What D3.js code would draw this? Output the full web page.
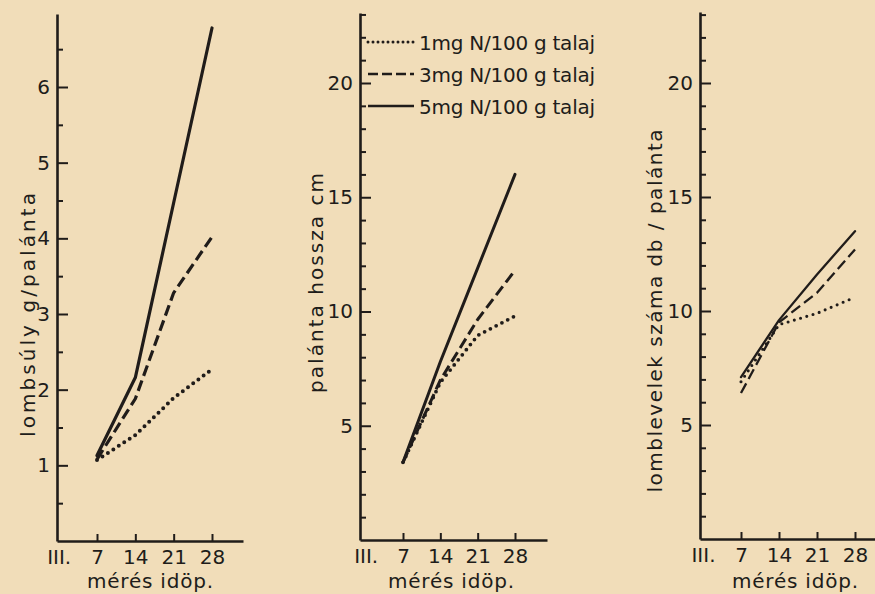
<!DOCTYPE html>
<html>
<head>
<meta charset="utf-8">
<script src="https://cdn.jsdelivr.net/npm/d3@7"></script>
<style>
  body { margin: 0; background: #f1ddb9; }
  svg { display: block; }
  text { font-family: "DejaVu Sans", sans-serif; fill: #201c1a; }
</style>
</head>
<body>
<div id="chart"></div>
<script>
// days of measurement (March)
var days = [7, 14, 21, 28];
var dayTicks = [0, 7, 14, 21, 28];
var dayLabels = ["III.", "7", "14", "21", "28"];

var legendLabels = ["1mg N/100 g talaj", "3mg N/100 g talaj", "5mg N/100 g talaj"];

// lombsúly g/palánta
var lombsuly1 = [1.07, 1.40, 1.89, 2.27];
var lombsuly3 = [1.08, 1.88, 3.28, 4.02];
var lombsuly5 = [1.13, 2.16, 4.47, 6.78];

// palánta hossza cm
var hossz1 = [3.4, 6.9, 8.95, 9.8];
var hossz3 = [3.4, 7.0, 9.65, 11.8];
var hossz5 = [3.4, 7.8, 11.9, 16.0];

// lomblevelek száma db/palánta
var levelek1 = [6.9, 9.4, 9.9, 10.6];
var levelek3 = [6.4, 9.5, 10.8, 12.7];
var levelek5 = [7.1, 9.6, 11.6, 13.5];

var yTicks1 = [1, 2, 3, 4, 5, 6];
var yMinor1 = [0.5, 1.5, 2.5, 3.5, 4.5, 5.5, 6.5];
var yTicks2 = [5, 10, 15, 20];
var yMinor2 = [1, 2, 3, 4, 6, 7, 8, 9, 11, 12, 13, 14, 16, 17, 18, 19, 21, 22, 23];

var ink = "#201c1a";

var svg = d3.select("#chart").append("svg")
    .attr("width", 875)
    .attr("height", 594);

var styles = [
  { dash: "0,6.5", cap: "round", extra: 0.8 },
  { dash: "11,5", cap: "butt", extra: 0 },
  { dash: null, cap: "round", extra: 0 }
];

function drawPanel(p) {
  // x scale fitted on the 7 and 28 ticks, then stretched to the axis ends
  var x = d3.scaleLinear().domain([7, 28]).range([p.x7, p.x28]);
  var xAx = x.copy().domain([x.invert(p.left), x.invert(p.right)]).range([p.left, p.right]);

  var y = d3.scaleLinear().domain([0, p.refVal]).range([p.bottom, p.refY]);
  var yAx = y.copy().domain([0, y.invert(p.top)]).range([p.bottom, p.top]);

  var g = svg.append("g");

  // minor y ticks
  g.append("g")
    .attr("transform", "translate(" + p.left + ",0)")
    .call(d3.axisLeft(yAx).tickValues(p.minor).tickSizeInner(-6).tickSizeOuter(0).tickFormat(""))
    .call(function (a) { a.select(".domain").remove(); });

  // major y ticks
  var ya = g.append("g")
    .attr("transform", "translate(" + p.left + ",0)")
    .call(d3.axisLeft(yAx).tickValues(p.ticks).tickSizeInner(-11).tickSizeOuter(0).tickPadding(7)
      .tickFormat(d3.format("d")));

  // x axis
  var xa = g.append("g")
    .attr("transform", "translate(0," + p.bottom + ")")
    .call(d3.axisBottom(xAx).tickValues(dayTicks).tickSizeInner(-7).tickSizeOuter(0).tickPadding(9)
      .tickFormat(function (d, i) { return dayLabels[i]; }));
  xa.selectAll(".tick").filter(function (d) { return d == 0; }).select("line").remove();

  [ya, xa].forEach(function (a) {
    a.select(".domain").attr("stroke", ink).attr("stroke-width", 2.6);
    a.selectAll(".tick text").style("font-size", "20px").attr("fill", ink);
  });
  g.selectAll(".tick line").attr("stroke", ink).attr("stroke-width", 2);

  // series
  var line = d3.line()
    .x(function (d, i) { return x(days[i]); })
    .y(function (d) { return y(d); });

  p.series.forEach(function (s, i) {
    g.append("path")
      .datum(s)
      .attr("d", line)
      .attr("fill", "none")
      .attr("stroke", ink)
      .attr("stroke-width", p.lw + styles[i].extra)
      .attr("stroke-linecap", styles[i].cap)
      .attr("stroke-linejoin", "round")
      .attr("stroke-dasharray", styles[i].dash);
  });

  // y title
  g.append("text")
    .attr("transform", "translate(" + p.titleX + "," + p.titleY + ") rotate(-90)")
    .attr("text-anchor", "middle")
    .attr("textLength", p.titleLen)
    .attr("lengthAdjust", "spacing")
    .style("font-size", "20px")
    .text(p.title);

  // x title
  g.append("text")
    .attr("x", p.xTitleX)
    .attr("y", 588)
    .attr("text-anchor", "middle")
    .attr("textLength", 126)
    .attr("lengthAdjust", "spacing")
    .style("font-size", "20px")
    .text("mérés idöp.");
}

drawPanel({
  left: 57, right: 243, top: 14, bottom: 541, x7: 97, x28: 212,
  refVal: 6, refY: 87, ticks: yTicks1, minor: yMinor1, lw: 3.2,
  series: [lombsuly1, lombsuly3, lombsuly5],
  title: "lombsúly  g/palánta", titleX: 35, titleY: 315, titleLen: 244, xTitleX: 150
});

drawPanel({
  left: 360, right: 547, top: 13, bottom: 540, x7: 403, x28: 515,
  refVal: 20, refY: 83, ticks: yTicks2, minor: yMinor2, lw: 3,
  series: [hossz1, hossz3, hossz5],
  title: "palánta  hossza   cm", titleX: 323, titleY: 283, titleLen: 220, xTitleX: 451
});

drawPanel({
  left: 700, right: 880, top: 12, bottom: 539, x7: 741, x28: 855,
  refVal: 20, refY: 83, ticks: yTicks2, minor: yMinor2, lw: 2.3,
  series: [levelek1, levelek3, levelek5],
  title: "lomblevelek  száma  db / palánta", titleX: 662, titleY: 311, titleLen: 363, xTitleX: 795
});

// legend (inside the middle panel)
var legend = svg.append("g").attr("transform", "translate(368,42)");
legendLabels.forEach(function (lab, i) {
  var row = legend.append("g").attr("transform", "translate(0," + (i * 32) + ")");
  row.append("line")
    .attr("x1", 0).attr("x2", 46)
    .attr("y1", 0).attr("y2", 0)
    .attr("stroke", ink)
    .attr("stroke-width", i == 0 ? 3 : 2.6)
    .attr("stroke-linecap", i == 0 ? "round" : "butt")
    .attr("stroke-dasharray", i == 0 ? "0,5" : (i == 1 ? "10,4" : null));
  row.append("text")
    .attr("x", 51)
    .attr("y", 8)
    .attr("textLength", 176)
    .attr("lengthAdjust", "spacing")
    .style("font-size", "20px")
    .text(lab);
});
</script>
</body>
</html>
